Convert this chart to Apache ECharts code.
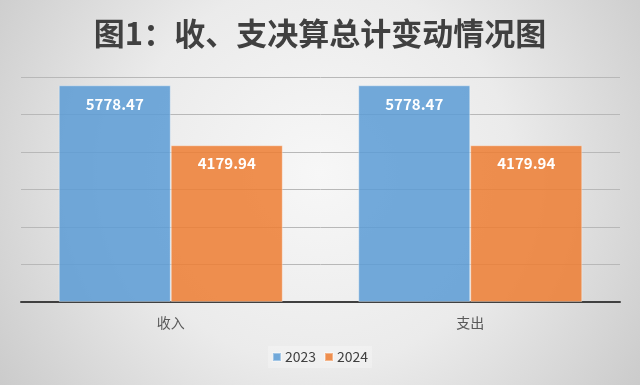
<!DOCTYPE html>
<html>
<head>
<meta charset="utf-8">
<script src="https://cdn.jsdelivr.net/npm/echarts@6/dist/echarts.min.js"></script>
<style>html,body{margin:0;padding:0;}#c{width:640px;height:385px;}</style>
</head>
<body>
<div id="c"></div>
<script>
var titleText = '图1：收、支决算总计变动情况图';
var categories = ['收入', '支出'];
var seriesNames = ['2023', '2024'];
var values2023 = [5778.47, 5778.47];
var values2024 = [4179.94, 4179.94];

var chart = echarts.init(document.getElementById('c'), null, {renderer: 'canvas'});
var font = '"Noto Sans CJK SC", "Noto Sans", sans-serif';
chart.setOption({
  animation: false,
  backgroundColor: {
    type: 'radial', x: 0.5, y: 0.45, r: 1.0,
    colorStops: [{offset: 0, color: '#f7f7f7'}, {offset: 0.5, color: '#ebebeb'}, {offset: 1, color: '#cbcbcb'}]
  },
  title: {
    text: titleText, left: 'center', top: 13,
    textStyle: {fontFamily: font, fontSize: 31, fontWeight: 'bold', color: '#404040'}
  },
  legend: {
    data: seriesNames, bottom: 17, left: 'center',
    itemWidth: 8, itemHeight: 8, itemGap: 8, icon: 'rect',
    backgroundColor: 'rgba(255,255,255,0.25)', padding: [4, 4],
    textStyle: {fontFamily: font, fontSize: 14, color: '#404040', padding: [0, 0, 0, -1]}
  },
  grid: {left: 21, right: 20, top: 77, bottom: 83},
  xAxis: {
    type: 'category', data: categories,
    axisLine: {lineStyle: {color: '#404040', width: 2}},
    axisTick: {show: false},
    axisLabel: {fontFamily: font, fontSize: 14, color: '#595959', margin: 14}
  },
  yAxis: {
    type: 'value', min: 0, max: 6000, interval: 1000,
    axisLabel: {show: false}, axisLine: {show: false}, axisTick: {show: false},
    splitLine: {lineStyle: {color: '#b8b8b8', width: 1}}
  },
  series: [
    {name: seriesNames[0], type: 'bar', data: values2023, barWidth: 112, barGap: '0%',
     itemStyle: {color: 'rgba(91,155,213,0.85)', borderColor: 'rgba(255,255,255,0.35)', borderWidth: 1},
     label: {show: true, position: 'insideTop', distance: 11, color: '#ffffff', fontFamily: font, fontSize: 15, fontWeight: 'bold'}},
    {name: seriesNames[1], type: 'bar', data: values2024, barWidth: 112,
     itemStyle: {color: 'rgba(237,125,49,0.85)', borderColor: 'rgba(255,255,255,0.35)', borderWidth: 1},
     label: {show: true, position: 'insideTop', distance: 11, color: '#ffffff', fontFamily: font, fontSize: 15, fontWeight: 'bold'}}
  ]
});
</script>
</body>
</html>
